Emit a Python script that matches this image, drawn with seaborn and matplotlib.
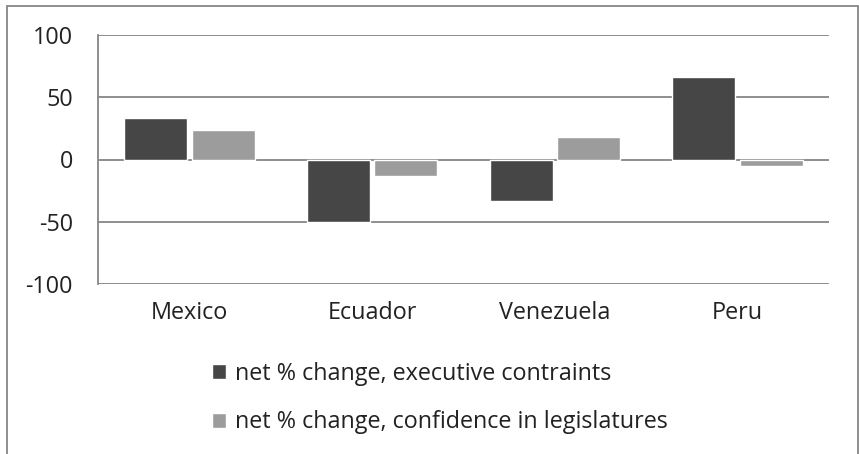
import seaborn as sns
import matplotlib.pyplot as plt
import pandas as pd
from matplotlib.patches import Rectangle

# data
countries = ["Mexico", "Ecuador", "Venezuela", "Peru"]
executive = [33, -50, -33, 66]
legislatures = [24, -13, 18, -5]
series_names = ["net % change, executive contraints",
                "net % change, confidence in legislatures"]

df = pd.DataFrame({
    "country": countries * 2,
    "value": executive + legislatures,
    "series": [series_names[0]] * 4 + [series_names[1]] * 4,
})

sns.set_theme(style="white")
plt.rcParams['font.family'] = ['Open Sans', 'DejaVu Sans']
plt.rcParams['axes.unicode_minus'] = False

fig = plt.figure(figsize=(8.59, 4.54), dpi=100)
ax = fig.add_axes([98 / 859, 1 - 284 / 454, (829 - 98) / 859, (284 - 35) / 454])

sns.barplot(data=df, x="country", y="value", hue="series",
            palette=["#464646", "#9c9c9c"], width=0.74, gap=0.07,
            ax=ax, saturation=1)

ax.set_ylim(-100, 100)
ax.set_yticks([-100, -50, 0, 50, 100])
ax.set_xlabel("")
ax.set_ylabel("")
ax.yaxis.grid(True, color="#868686", linewidth=1.3)
ax.set_axisbelow(True)
for side in ["top", "right", "bottom"]:
    ax.spines[side].set_visible(False)
ax.spines["left"].set_color("#868686")
ax.spines["left"].set_linewidth(1.3)
ax.tick_params(axis="both", length=0, labelsize=16.8, colors="#222222")
ax.tick_params(axis="y", pad=18)
ax.tick_params(axis="x", pad=12)

ax.legend(loc="upper left", bbox_to_anchor=(212 / 859, 1 - 362 / 454),
          bbox_transform=fig.transFigure, frameon=False, fontsize=16.8,
          borderpad=0, borderaxespad=0,
          handlelength=0.62, handleheight=0.62, handletextpad=0.35,
          labelspacing=1.05, labelcolor="#222222")

# outer chart frame
fig.add_artist(Rectangle((7 / 859, -0.05), (858 - 7) / 859, 1.05 - 6 / 454,
                         transform=fig.transFigure, fill=False,
                         edgecolor="#868686", linewidth=1.3))

fig.savefig("out.png", dpi=100)
